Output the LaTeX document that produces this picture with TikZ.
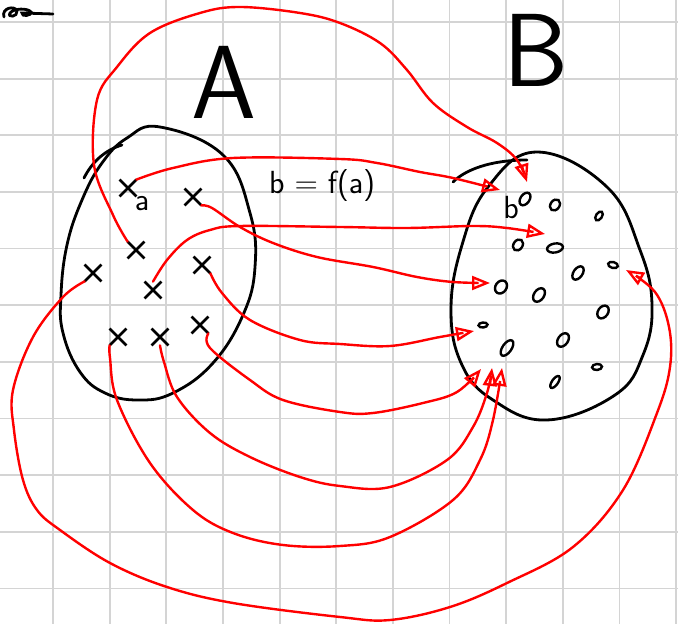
\documentclass[tikz,border=0pt]{standalone}
\usepackage{tikz}
\usetikzlibrary{arrows.meta,shapes.misc,shapes.geometric}

\begin{document}
\begin{tikzpicture}[
  x=0.5pt, y=-0.5pt,
  font=\sffamily,
  grid/.style={draw=black!17, line width=0.9pt},
  pen/.style={line width=1.4pt, line cap=round},
  elt/.style={cross out, draw, line width=1.4pt, minimum size=7pt, inner sep=0pt},
  img/.style={ellipse, draw, line width=1.2pt, inner sep=0pt,
    minimum width=4.5pt, minimum height=7pt, rotate=-35},
  map/.style={red, line width=1.2pt, line cap=round,
    -{Triangle[open, length=9pt, width=7pt]}}
]
\useasboundingbox (0,0) rectangle (678,624);

% squared paper
\foreach \i in {-1,...,11}
  \draw[grid] ({53+56.65*\i},0) -- ({53+56.65*\i},624);
\foreach \j in {0,...,10}
  \draw[grid] (0,{22+56.65*\j}) -- (678,{22+56.65*\j});

% leftover scribble
\draw[pen] (4,17) .. controls (1,8) and (15,5) .. (17,11)
  .. controls (18,17) and (7,18) .. (10,13) .. controls (14,8) and (28,8) .. (31,12)
  .. controls (32,16) and (21,17) .. (22,13) -- (53,14);

% set A
\node (A) at (224,82) {\fontsize{52}{52}\selectfont A};
\draw[pen] plot[smooth cycle, tension=0.7] coordinates {(160,127) (223,155) (250,213)
  (255,267) (243,315) (213,363) (173,393) (138,400) (105,393) (80,372) (63,333)
  (61,295) (67,245) (82,200) (102,163) (127,138)};
\draw[pen] (84,178) .. controls (92,162) and (105,150) .. (122,145);

\node[elt] (a1) at (128,188) {};
\node[elt] (a2) at (193,197) {};
\node[elt] (a3) at (136,250) {};
\node[elt] (a4) at (93,273) {};
\node[elt] (a5) at (202,265) {};
\node[elt] (a6) at (153,290) {};
\node[elt] (a7) at (118,337) {};
\node[elt] (a8) at (160,337) {};
\node[elt] (a9) at (200,325) {};
\node (la) at (142,204) {\fontsize{16}{16}\selectfont a};

\node (rule) at (322,186) {\fontsize{16}{16}\selectfont b = f(a)};

% set B
\node (B) at (536,50) {\fontsize{52}{52}\selectfont B};
\draw[pen] plot[smooth cycle, tension=0.7] coordinates {(537,152) (607,187) (640,250)
  (652,305) (643,355) (615,395) (547,420) (493,400) (462,365) (451,310)
  (462,245) (488,187)};
\draw[pen] (453,182) .. controls (465,170) and (490,160) .. (527,160);

\node[img] (b1) at (525,199) {};
\node[img, minimum height=6pt] (b2) at (555,205) {};
\node[img, minimum width=3pt, minimum height=5pt, rotate=0] (b3) at (599,216) {};
\node[img, minimum height=6pt] (b4) at (518,245) {};
\node[img, minimum height=8pt, rotate=-45] (b5) at (555,248) {};
\node[img, minimum width=3pt, minimum height=5pt, rotate=-70] (b6) at (613,265) {};
\node[img, minimum height=7.5pt] (b7) at (578,273) {};
\node[img, minimum width=5.5pt] (b8) at (501,287) {};
\node[img, minimum width=5pt, minimum height=7.5pt] (b9) at (539,295) {};
\node[img, minimum width=5pt] (b10) at (603,312) {};
\node[img, minimum width=2.5pt, minimum height=4.5pt, rotate=-50] (b11) at (483,325) {};
\node[img, minimum height=9pt] (b12) at (507,348) {};
\node[img, minimum width=5pt, minimum height=7.5pt] (b13) at (563,340) {};
\node[img, minimum width=3pt, minimum height=5pt, rotate=-50] (b14) at (597,367) {};
\node[img, minimum width=3pt, minimum height=7pt] (b15) at (555,382) {};
\node (lb) at (511,208) {\fontsize{16}{16}\selectfont b};

% arrow tips
\coordinate (t1) at (527,182);
\coordinate (t2) at (500,190);
\coordinate (t3) at (490,283);
\coordinate (t4) at (545,234);
\coordinate (t5) at (474,331);
\coordinate (t6) at (481,369);
\coordinate (t7) at (492,368);
\coordinate (t8) at (502,368);
\coordinate (t9) at (626,270);

% the mapping f
\draw[map] plot[smooth, tension=0.6] coordinates {(a3.north west) (113,215) (94,165)
  (97,100) (117,67) (150,33) (200,13) (240,7) (300,13) (340,23) (380,43) (407,70)
  (433,103) (467,127) (497,143) (517,160) (t1)};
\draw[map] plot[smooth, tension=0.6] coordinates {(a1.north east) (173,168)
  (233,158) (340,159) (377,163) (420,172) (453,178) (t2)};
\draw[map] plot[smooth, tension=0.6] coordinates {(a2.south east) (212,208)
  (240,227) (273,243) (317,257) (373,267) (417,277) (453,282) (t3)};
\draw[map] plot[smooth, tension=0.6] coordinates {(a6.north) (167,260) (187,240)
  (210,230) (240,226) (340,227) (407,228) (473,226) (507,228) (t4)};
\draw[map] plot[smooth, tension=0.6] coordinates {(a5.south east) (222,293)
  (250,320) (300,340) (340,344) (390,346) (440,337) (t5)};
\draw[map] plot[smooth, tension=0.6] coordinates {(a9.south east) (210,348)
  (250,380) (283,400) (340,412) (373,413) (423,403) (457,392) (t6)};
\draw[map] plot[smooth, tension=0.6] coordinates {(a8.south) (164,362) (177,397)
  (210,433) (250,457) (300,477) (340,486) (390,487) (447,460) (473,427) (487,393) (t7)};
\draw[map] plot[smooth, tension=0.6] coordinates {(a7.south west) (110,358)
  (117,400) (150,463) (193,510) (233,533) (283,545) (340,546) (390,537) (453,500)
  (480,460) (493,420) (t8)};
\draw[map] plot[smooth, tension=0.6] coordinates {(a4.south west) (63,297)
  (33,337) (13,390) (14,430) (23,480) (37,510) (60,530) (110,563) (167,587)
  (233,603) (340,617) (390,620) (450,607) (507,583) (573,547) (623,490) (657,413)
  (670,367) (669,327) (655,292) (t9)};

\end{tikzpicture}
\end{document}
